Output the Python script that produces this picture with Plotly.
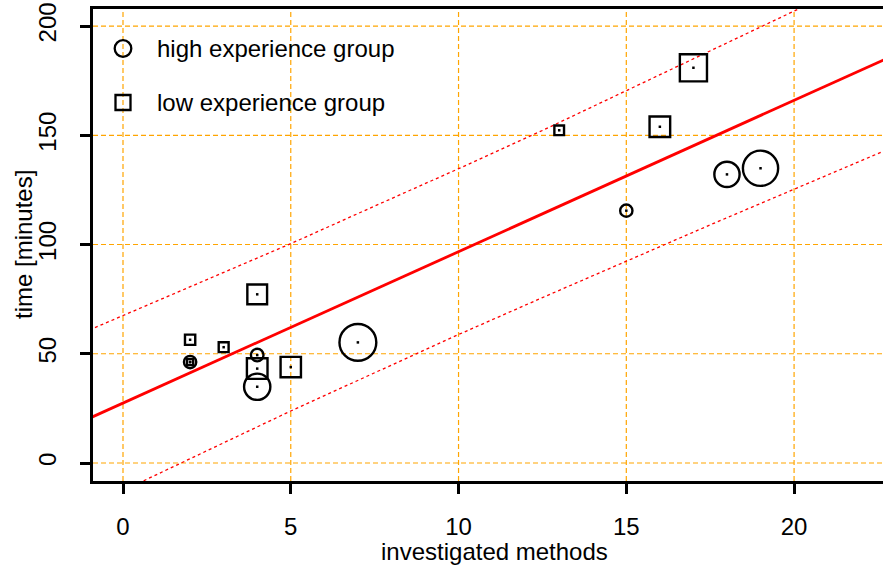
import plotly.graph_objects as go

# ---- data ----
high_x = [2, 4, 4, 7, 15, 18, 19]
high_y = [46.2, 49.4, 34.9, 55.2, 115.5, 132.1, 134.9]
high_w = [1.0, 1.02, 1.95, 2.67, 1.0, 1.88, 2.56]

low_x = [2, 2, 3, 4, 4, 5, 13, 16, 17]
low_y = [56.4, 46.2, 53.0, 77.2, 43.2, 43.9, 152.3, 153.9, 180.9]
low_w = [1.03, 0.7, 1.0, 1.8, 1.87, 1.85, 0.98, 1.87, 2.4]

band_x = [-1, 2.5, 5, 7.5, 10, 12.5, 15, 17.5, 20, 23]
fit_y = [20.5, 44.7, 62.1, 79.4, 96.7, 114.0, 131.4, 148.7, 166.0, 186.8]
upper_y = [60.9, 83.8, 100.4, 117.6, 134.7, 152.2, 170.3, 188.3, 206.7, 228.7]
lower_y = [-19.9, 5.6, 23.8, 41.3, 58.8, 75.7, 92.5, 109.0, 125.3, 144.9]

x_ticks = [0, 5, 10, 15, 20]
y_ticks = [0, 50, 100, 150, 200]
legend_labels = ["high experience group", "low experience group"]

# ---- style ----
FONT = "Liberation Sans, Arial, Helvetica, sans-serif"
FS = 24
CIRCLE_SCALE = 14.7
SQUARE_SCALE = 12.3
LW = 2.4
GRID = dict(color="#FFA500", width=1.2, dash="5px,3px")

fig = go.Figure()

# regression line and prediction band
for yy in (upper_y, lower_y):
    fig.add_trace(go.Scatter(x=band_x, y=yy, mode="lines",
                             line=dict(color="red", width=1.3, dash="3px,3px"),
                             hoverinfo="skip"))
fig.add_trace(go.Scatter(x=band_x, y=fit_y, mode="lines",
                         line=dict(color="red", width=2.8),
                         hoverinfo="skip"))

# bubbles
fig.add_trace(go.Scatter(
    x=high_x, y=high_y, mode="markers", name=legend_labels[0],
    marker=dict(symbol="circle", size=[w * CIRCLE_SCALE - LW for w in high_w],
                opacity=1, color="rgba(0,0,0,0)", line=dict(width=LW, color="black"))))
fig.add_trace(go.Scatter(
    x=low_x, y=low_y, mode="markers", name=legend_labels[1],
    marker=dict(symbol="square", size=[w * SQUARE_SCALE - LW for w in low_w],
                opacity=1, color="rgba(0,0,0,0)", line=dict(width=LW, color="black"))))
# center dots
fig.add_trace(go.Scatter(
    x=high_x + low_x, y=high_y + low_y, mode="markers",
    marker=dict(symbol="square", size=2.5, color="black", opacity=1, line=dict(width=0)),
    hoverinfo="skip"))

W, H = 883, 567
L, R, T, B = 93, 0, 9, 86
PW, PH = W - L - R, H - T - B


def px(xp):
    return (xp - L) / PW


def py(yp):
    return (H - B - yp) / PH


shapes = []
# grid lines (dashed orange) at tick positions
for v in x_ticks:
    shapes.append(dict(type="line", xref="x", yref="paper", x0=v, x1=v, y0=0, y1=1,
                       line=GRID, layer="below"))
for v in y_ticks:
    shapes.append(dict(type="line", xref="paper", yref="y", x0=0, x1=1, y0=v, y1=v,
                       line=GRID, layer="below"))
# legend symbols
shapes += [
    dict(type="circle", xref="paper", yref="paper", xsizemode="pixel", ysizemode="pixel",
         xanchor=px(123), yanchor=py(48.5), x0=-8.3, x1=8.3, y0=-8.3, y1=8.3,
         line=dict(color="black", width=2.3)),
    dict(type="rect", xref="paper", yref="paper", xsizemode="pixel", ysizemode="pixel",
         xanchor=px(123), yanchor=py(102.5), x0=-7.5, x1=7.5, y0=-7.5, y1=7.5,
         line=dict(color="black", width=2.3)),
]
annotations = [
    dict(text=legend_labels[0], xref="paper", yref="paper", x=px(155), y=py(48),
         xanchor="left", yanchor="middle", showarrow=False,
         font=dict(family=FONT, size=FS, color="black")),
    dict(text=legend_labels[1], xref="paper", yref="paper", x=px(155), y=py(102),
         xanchor="left", yanchor="middle", showarrow=False,
         font=dict(family=FONT, size=FS, color="black")),
    dict(text="investigated methods", xref="paper", yref="paper", x=px(494), y=py(551),
         xanchor="center", yanchor="middle", showarrow=False,
         font=dict(family=FONT, size=FS, color="black")),
    dict(text="time [minutes]", xref="paper", yref="paper", x=px(23), y=py(245),
         xanchor="center", yanchor="middle", showarrow=False, textangle=-90,
         font=dict(family=FONT, size=FS, color="black")),
]

fig.update_layout(
    width=W, height=H,
    margin=dict(l=L, r=R, t=T, b=B, pad=0),
    paper_bgcolor="white", plot_bgcolor="white",
    showlegend=False,
    shapes=shapes, annotations=annotations,
    font=dict(family=FONT, size=FS, color="black"),
    xaxis=dict(range=[-0.894, 22.65], tickvals=x_ticks, ticktext=[str(v) for v in x_ticks],
               showline=True, linecolor="black", linewidth=2.5, mirror=True,
               ticks="outside", ticklen=10, tickwidth=2.5, tickcolor="black",
               showgrid=False, zeroline=False, ticklabelstandoff=12,
               tickfont=dict(family=FONT, size=FS, color="black")),
    yaxis=dict(range=[-8.24, 207.8], tickvals=y_ticks, ticktext=[str(v) for v in y_ticks],
               showline=True, linecolor="black", linewidth=2.5, mirror=False,
               ticks="outside", ticklen=10, tickwidth=2.5, tickcolor="black",
               showgrid=False, zeroline=False, tickangle=-90, ticklabelstandoff=15,
               tickfont=dict(family=FONT, size=FS, color="black")),
)

fig.write_html(
    "out.html",
    config={"displayModeBar": False},
    post_script="document.body.style.margin='0';document.body.style.overflow='hidden';",
)
